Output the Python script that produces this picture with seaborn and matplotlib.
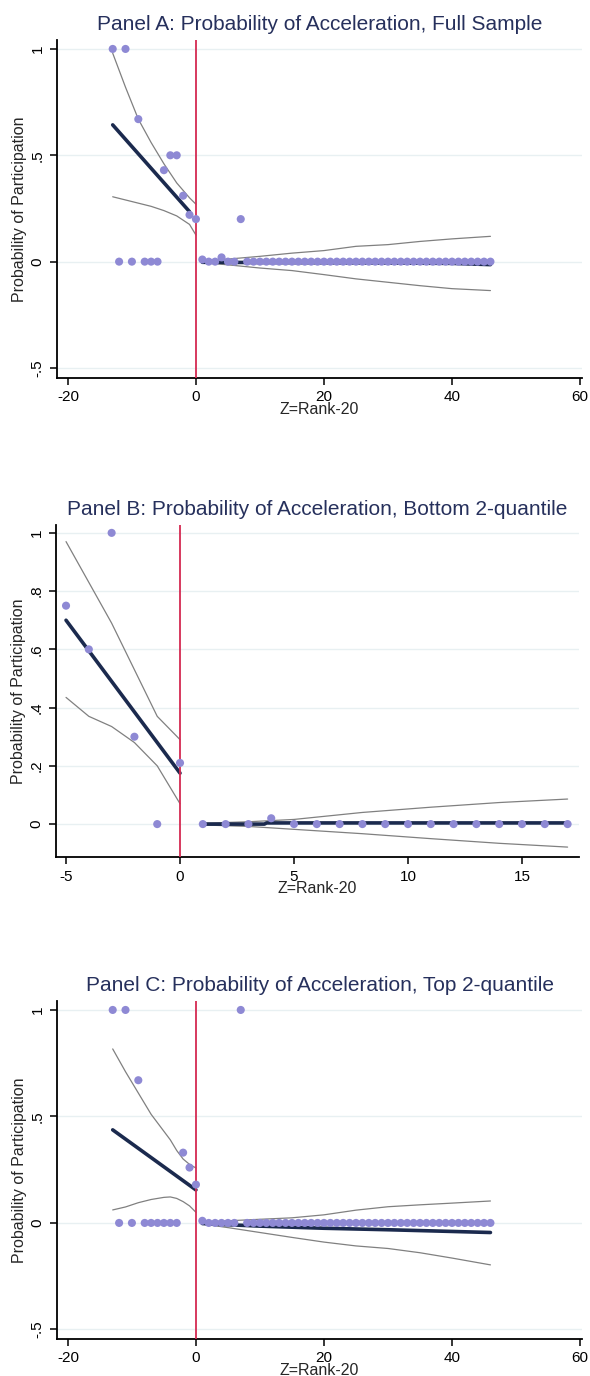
import numpy as np
import pandas as pd
import matplotlib
matplotlib.use("Agg")
import matplotlib.pyplot as plt
import seaborn as sns

sns.set_style("ticks")
plt.rcParams['font.family'] = ['Liberation Sans', 'DejaVu Sans']

# ---------------- Panel A data ----------------
a_title = "Panel A: Probability of Acceleration, Full Sample"
a_pts_x = [-13, -12, -11, -10, -9, -8, -7, -6, -5, -4, -3, -2, -1, 0,
           1, 2, 3, 4, 5, 6, 7, 8, 9, 10, 11, 12, 13, 14, 15, 16, 17, 18, 19, 20,
           21, 22, 23, 24, 25, 26, 27, 28, 29, 30, 31, 32, 33, 34, 35, 36, 37, 38,
           39, 40, 41, 42, 43, 44, 45, 46]
a_pts_y = [1.0, 0, 1.0, 0, 0.67, 0, 0, 0, 0.43, 0.5, 0.5, 0.31, 0.22, 0.2,
           0.01, 0, 0, 0.02, 0, 0, 0.2, 0, 0, 0, 0, 0, 0, 0, 0, 0, 0, 0, 0, 0,
           0, 0, 0, 0, 0, 0, 0, 0, 0, 0, 0, 0, 0, 0, 0, 0, 0, 0,
           0, 0, 0, 0, 0, 0, 0, 0]
a_fitL_x = [-13, -1]
a_fitL_y = [0.643, 0.235]
a_ciL_x = [-13, -11, -9, -7, -5, -3, -1, 0]
a_ciL_hi = [0.98, 0.82, 0.67, 0.56, 0.46, 0.37, 0.30, 0.27]
a_ciL_lo = [0.305, 0.29, 0.275, 0.26, 0.24, 0.215, 0.175, 0.125]
a_fitR_x = [1, 40, 46]
a_fitR_y = [-0.003, -0.008, -0.014]
a_ciR_x = [1, 5, 10, 15, 20, 25, 30, 35, 40, 46]
a_ciR_hi = [0.004, 0.012, 0.025, 0.040, 0.052, 0.072, 0.080, 0.095, 0.107, 0.119]
a_ciR_lo = [-0.004, -0.015, -0.030, -0.042, -0.061, -0.081, -0.097, -0.113, -0.127, -0.136]
a_xticks = [-20, 0, 20, 40, 60]
a_yticks = [-0.5, 0, 0.5, 1]
a_ylabels = ["-.5", "0", ".5", "1"]

# ---------------- Panel B data ----------------
b_title = "Panel B: Probability of Acceleration, Bottom 2-quantile"
b_pts_x = [-5, -4, -3, -2, -1, 0, 1, 2, 3, 4, 5, 6, 7, 8, 9, 10, 11, 12, 13, 14, 15, 16, 17]
b_pts_y = [0.75, 0.60, 1.0, 0.30, 0, 0.21, 0, 0, 0, 0.02, 0, 0, 0, 0, 0, 0, 0, 0, 0, 0, 0, 0, 0]
b_fitL_x = [-5, 0]
b_fitL_y = [0.70, 0.175]
b_ciL_x = [-5, -4, -3, -2, -1, 0]
b_ciL_hi = [0.97, 0.83, 0.69, 0.53, 0.37, 0.29]
b_ciL_lo = [0.435, 0.37, 0.335, 0.28, 0.20, 0.07]
b_fitR_x = [1, 3.7, 3.8, 17]
b_fitR_y = [0.0, 0.0, 0.004, 0.004]
b_ciR_x = [1, 3, 5, 8, 11, 14, 17]
b_ciR_hi = [0.003, 0.008, 0.016, 0.040, 0.058, 0.074, 0.086]
b_ciR_lo = [-0.003, -0.008, -0.018, -0.033, -0.050, -0.066, -0.079]
b_xticks = [-5, 0, 5, 10, 15]
b_yticks = [0, 0.2, 0.4, 0.6, 0.8, 1.0]
b_ylabels = ["0", ".2", ".4", ".6", ".8", "1"]

# ---------------- Panel C data ----------------
c_title = "Panel C: Probability of Acceleration, Top 2-quantile"
c_pts_x = a_pts_x
c_pts_y = [1.0, 0, 1.0, 0, 0.67, 0, 0, 0, 0, 0, 0, 0.33, 0.26, 0.18,
           0.01, 0, 0, 0, 0, 0, 1.0, 0, 0, 0, 0, 0, 0, 0, 0, 0, 0, 0, 0, 0,
           0, 0, 0, 0, 0, 0, 0, 0, 0, 0, 0, 0, 0, 0, 0, 0, 0, 0,
           0, 0, 0, 0, 0, 0, 0, 0]
c_fitL_x = [-13, 0]
c_fitL_y = [0.437, 0.155]
c_ciL_x = [-13, -11, -9, -7, -5, -4, -3, -2, -1, 0]
c_ciL_hi = [0.817, 0.71, 0.61, 0.51, 0.43, 0.39, 0.34, 0.30, 0.275, 0.258]
c_ciL_lo = [0.061, 0.075, 0.095, 0.11, 0.12, 0.122, 0.115, 0.10, 0.08, 0.05]
c_fitR_x = [1, 10, 20, 30, 40, 46]
c_fitR_y = [-0.003, -0.015, -0.025, -0.032, -0.040, -0.045]
c_ciR_x = [1, 5, 10, 15, 20, 25, 30, 35, 40, 46]
c_ciR_hi = [0.004, 0.010, 0.017, 0.024, 0.038, 0.060, 0.076, 0.085, 0.093, 0.103]
c_ciR_lo = [-0.005, -0.022, -0.045, -0.068, -0.090, -0.108, -0.120, -0.140, -0.165, -0.197]

xlabel = "Z=Rank-20"
ylabel = "Probability of Participation"

PT_COL = "#8E89D4"
FIT_COL = "#1B2A4E"
CI_COL = "#808080"
RED = "#D42A52"
GRID = "#E8F0F2"
TITLE_COL = "#26305C"

W, H = 590, 1376
fig = plt.figure(figsize=(W / 100, H / 100), dpi=100)
fig.patch.set_facecolor("white")


def make_axes(left, right, top, bottom):
    return fig.add_axes([left / W, 1 - bottom / H, (right - left) / W, (bottom - top) / H])


def draw_panel(ax, title, px, py, fLx, fLy, cLx, cLhi, cLlo, fRx, fRy, cRx, cRhi, cRlo,
               xlim, ylim, xticks, yticks, ylabs):
    for x_, y_ in [(cLx, cLhi), (cLx, cLlo), (cRx, cRhi), (cRx, cRlo)]:
        sns.lineplot(x=x_, y=y_, ax=ax, color=CI_COL, lw=0.9, sort=False, estimator=None)
    sns.lineplot(x=fLx, y=fLy, ax=ax, color=FIT_COL, lw=2.6, sort=False, estimator=None)
    sns.lineplot(x=fRx, y=fRy, ax=ax, color=FIT_COL, lw=2.6, sort=False, estimator=None)
    df = pd.DataFrame({"x": px, "y": py})
    sns.scatterplot(data=df, x="x", y="y", ax=ax, color=PT_COL, s=34, marker="o",
                    edgecolor="none", linewidth=0, zorder=5)
    ax.axvline(0, color=RED, lw=1.3, zorder=4)
    ax.set_xlim(*xlim)
    ax.set_ylim(*ylim)
    ax.set_xticks(xticks)
    ax.set_xticklabels([str(t) for t in xticks])
    ax.set_yticks(yticks)
    ax.set_yticklabels(ylabs, rotation=90, va="center")
    for yv in yticks:
        ax.axhline(yv, color=GRID, lw=1.0, zorder=0)
    sns.despine(ax=ax)
    for sp in ["left", "bottom"]:
        ax.spines[sp].set_color("black")
        ax.spines[sp].set_linewidth(1.3)
    ax.tick_params(axis="both", length=5, width=1.1, color="black", labelsize=11,
                   labelcolor="black", direction="out")
    ax.tick_params(axis="x", pad=4)
    ax.tick_params(axis="y", pad=4)
    ax.set_title(title, fontsize=15, color=TITLE_COL, pad=7)
    ax.set_xlabel(xlabel, fontsize=11.5)
    ax.set_ylabel(ylabel, fontsize=11.5)
    ax.xaxis.set_label_coords(0.5, -0.072)
    ax.yaxis.set_label_coords(-0.057, 0.5)
    ax.set_facecolor("white")


axA = make_axes(57, 582, 40, 378)
draw_panel(axA, a_title, a_pts_x, a_pts_y, a_fitL_x, a_fitL_y, a_ciL_x, a_ciL_hi, a_ciL_lo,
           a_fitR_x, a_fitR_y, a_ciR_x, a_ciR_hi, a_ciR_lo,
           (-21.7, 60.3), (-0.547, 1.042), a_xticks, a_yticks, a_ylabels)

axB = make_axes(56, 579, 525, 857)
draw_panel(axB, b_title, b_pts_x, b_pts_y, b_fitL_x, b_fitL_y, b_ciL_x, b_ciL_hi, b_ciL_lo,
           b_fitR_x, b_fitR_y, b_ciR_x, b_ciR_hi, b_ciR_lo,
           (-5.44, 17.5), (-0.113, 1.027), b_xticks, b_yticks, b_ylabels)

axC = make_axes(57, 582, 1001, 1339)
draw_panel(axC, c_title, c_pts_x, c_pts_y, c_fitL_x, c_fitL_y, c_ciL_x, c_ciL_hi, c_ciL_lo,
           c_fitR_x, c_fitR_y, c_ciR_x, c_ciR_hi, c_ciR_lo,
           (-21.7, 60.3), (-0.545, 1.042), a_xticks, a_yticks, a_ylabels)

fig.savefig("out.png", dpi=100, facecolor="white")
